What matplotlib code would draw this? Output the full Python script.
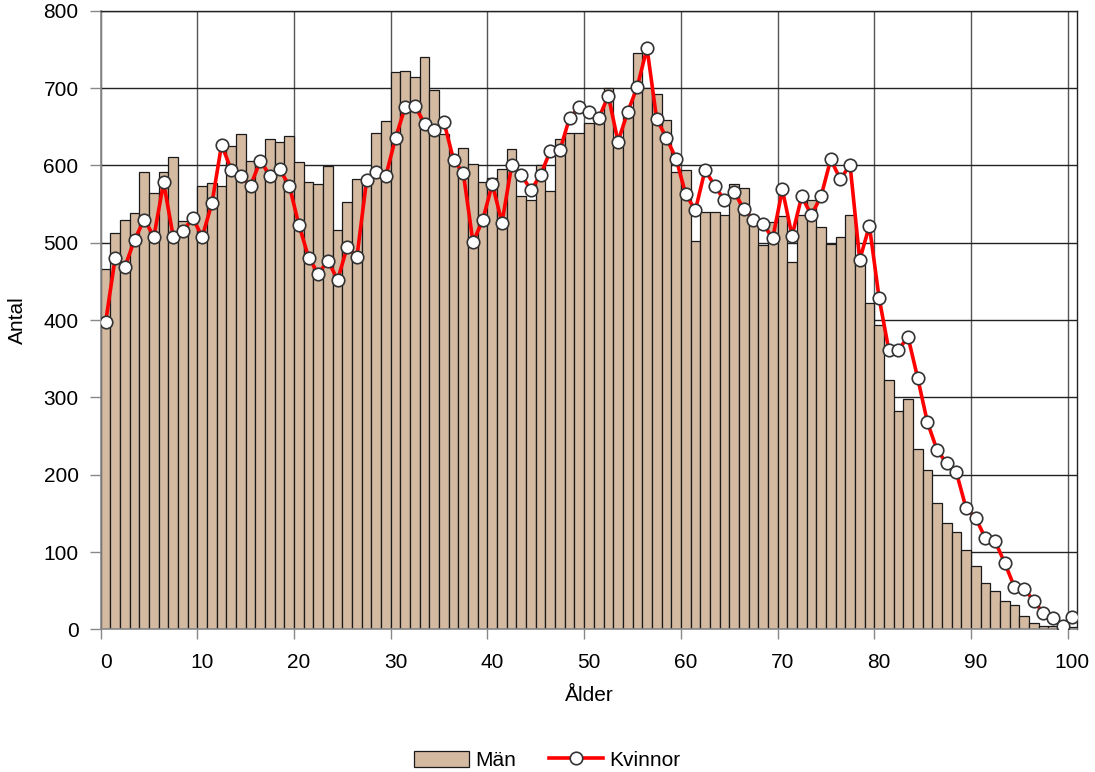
import numpy as np
import matplotlib
matplotlib.use("Agg")
import matplotlib.pyplot as plt

plt.rcParams['font.family'] = ['Liberation Sans', 'DejaVu Sans']

ages = list(range(0, 101))
man = [466, 513, 530, 538, 591, 565, 591, 611, 528, 527,
       573, 577, 573, 625, 641, 606, 605, 634, 630, 638,
       604, 579, 576, 599, 517, 553, 583, 584, 642, 658,
       721, 722, 715, 740, 697, 641, 602, 622, 602, 579,
       584, 595, 621, 561, 556, 600, 567, 634, 642, 642,
       655, 655, 700, 632, 668, 745, 700, 692, 659, 591,
       594, 502, 540, 540, 536, 576, 571, 533, 497, 527,
       535, 475, 536, 556, 520, 499, 508, 536, 478, 422,
       394, 323, 282, 298, 233, 206, 163, 138, 126, 103,
       82, 60, 50, 37, 32, 18, 8, 5, 5, 6,
       3]
kvinnor = [397, 481, 469, 504, 530, 508, 578, 508, 515, 532,
           508, 551, 627, 594, 586, 574, 606, 587, 595, 574,
           523, 481, 460, 477, 452, 495, 482, 581, 592, 587,
           636, 676, 677, 654, 646, 656, 607, 590, 501, 529,
           576, 526, 600, 588, 568, 588, 619, 620, 662, 675,
           669, 661, 690, 631, 669, 702, 752, 660, 636, 609,
           563, 542, 594, 574, 555, 566, 544, 530, 524, 506,
           569, 509, 560, 536, 560, 608, 582, 601, 478, 522,
           429, 362, 362, 378, 325, 268, 232, 215, 203, 157,
           144, 118, 114, 86, 55, 53, 37, 21, 15, 4,
           16]
xtick_labels = ['0', '10', '20', '30', '40', '50', '60', '70', '80', '90', '100']
yticks = [0, 100, 200, 300, 400, 500, 600, 700, 800]

fig = plt.figure(figsize=(10.95, 7.72), dpi=100)
ax = fig.add_axes([0.092, 0.1846, 0.9838 - 0.092, 0.986 - 0.1846])

bars = ax.bar(ages, man, width=1.0, color='#D4BAA1', edgecolor='#1a1a1a',
              linewidth=0.9, label='Män', zorder=2)
line, = ax.plot(ages, kvinnor, color='#FF0000', lw=2.6, marker='o', ms=9,
                mfc='white', mec='#333333', mew=1.2, label='Kvinnor', zorder=3)

ax.set_xlim(-0.5, 100.5)
ax.set_ylim(0, 800)
ax.set_yticks(yticks)
ax.set_yticklabels([str(v) for v in yticks])
ax.set_xticks(np.arange(0, 101, 10))
ax.set_xticklabels(xtick_labels)
ax.set_xticks(np.arange(-0.5, 101, 10), minor=True)
ax.tick_params(axis='x', which='major', length=0, labelsize=15, pad=17)
ax.tick_params(axis='x', which='minor', length=7, color='#888888', width=1)
ax.tick_params(axis='y', which='major', length=8, color='#888888', width=1,
               labelsize=15, pad=8)

ax.set_axisbelow(True)
ax.grid(axis='y', which='major', color='#222222', lw=1.0)
ax.grid(axis='x', which='minor', color='#555555', lw=1.0)
ax.grid(axis='x', which='major', visible=False)

for s in ['left', 'bottom']:
    ax.spines[s].set_color('#888888')
    ax.spines[s].set_linewidth(1.2)
for s in ['top', 'right']:
    ax.spines[s].set_color('#222222')
    ax.spines[s].set_linewidth(1.0)

ax.set_xlabel('Ålder', fontsize=15, labelpad=10)
ax.set_ylabel('Antal', fontsize=15, labelpad=12)

fig.legend([bars, line], ['Män', 'Kvinnor'], loc='center',
           bbox_to_anchor=(0.5, 0.015),
           ncol=2, frameon=False, fontsize=15, handlelength=2.6,
           handleheight=0.8, handletextpad=0.3, columnspacing=1.6)

fig.savefig('out.png', dpi=100)
